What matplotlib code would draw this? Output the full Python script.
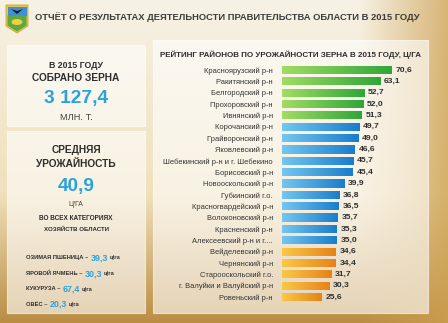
import numpy as np
import matplotlib
matplotlib.use("Agg")
import matplotlib.pyplot as plt
from matplotlib.patches import Rectangle, Polygon, Ellipse

# district harvest rating, 2015 (centner per hectare)
districts = [
    "Красноярузский р-н", "Ракитянский р-н", "Белгородский р-н",
    "Прохоровский р-н", "Ивнянский р-н", "Корочанский р-н",
    "Грайворонский р-н", "Яковлевский р-н", "Шебекинский р-н и г. Шебекино",
    "Борисовский р-н", "Новооскольский р-н", "Губкинский г.о.",
    "Красногвардейский р-н", "Волоконовский р-н", "Красненский р-н",
    "Алексеевский р-н и г....", "Вейделевский р-н", "Чернянский р-н",
    "Старооскольский г.о.", "г. Валуйки и Валуйский р-н", "Ровеньский р-н",
]
yields = [70.6, 63.1, 52.7, 52.0, 51.3, 49.7, 49.0, 46.6, 45.7, 45.4, 39.9,
          36.8, 36.5, 35.7, 35.3, 35.0, 34.6, 34.4, 31.7, 30.3, 25.6]
groups = ["top"] * 5 + ["mid"] * 11 + ["low"] * 5

total_grain = "3 127,4"
avg_yield = "40,9"
crops = ["ОЗИМАЯ ПШЕНИЦА", "ЯРОВОЙ ЯЧМЕНЬ", "КУКУРУЗА", "ОВЁС"]
crop_yields = [39.3, 30.3, 67.4, 20.3]

FONT = ["Liberation Sans", "DejaVu Sans"]
DARK = "#2e2e2e"
BLUE = "#2aa2dc"
grad = {
    "top": ("#a2dc64", "#2fa63a"),
    "mid": ("#74c6f0", "#1a7dcc"),
    "low": ("#fac846", "#e5831a"),
}


def comma(v):
    return f"{v:.1f}".replace(".", ",")


W, H = 448, 323
fig = plt.figure(figsize=(W / 100, H / 100), dpi=100)
renderer = fig.canvas.get_renderer()


def fit(t, width):
    # scale the font so the text spans the given pixel width
    w = t.get_window_extent(renderer).width
    t.set_fontsize(t.get_fontsize() * width / w)
    return t


# warm wheat-like backdrop
bg = fig.add_axes([0, 0, 1, 1])
yy, xx = np.mgrid[0:H, 0:W]
ty = yy / H
tx = xx / W
top = np.array([247, 242, 230]) / 255
mid = np.array([240, 224, 186]) / 255
bot = np.array([186, 140, 66]) / 255
w1 = np.clip(ty / 0.6, 0, 1)[..., None]
w2 = np.clip((ty - 0.6) / 0.4, 0, 1)[..., None]
img = top * (1 - w1) + mid * w1
img = img * (1 - w2) + bot * w2
side = np.clip((tx - 0.8) / 0.2, 0, 1)[..., None] * 0.75
img = img * (1 - side) + np.array([205, 160, 80]) / 255 * side
bg.imshow(img, extent=[0, W, H, 0], aspect="auto")
bg.set_xlim(0, W)
bg.set_ylim(H, 0)
bg.axis("off")

# panels
for x0, y0, x1, y1 in [(7, 45, 145, 126), (7, 131, 145, 313), (153, 40, 428, 313)]:
    bg.add_patch(Rectangle((x0, y0), x1 - x0, y1 - y0, facecolor="white",
                           alpha=0.6, edgecolor="white", lw=0.8))

# coat of arms
bg.add_patch(Polygon([(6, 5), (28, 5), (28, 26), (17, 33), (6, 26)],
                     closed=True, facecolor="#e6c54a", edgecolor="#c9a53a", lw=0.6))
bg.add_patch(Rectangle((7.5, 6.5), 19, 9, facecolor="#3f8fd4", lw=0))
bg.add_patch(Polygon([(7.5, 15.5), (26.5, 15.5), (26.5, 25.5), (17, 31.5), (7.5, 25.5)],
                     closed=True, facecolor="#5ea842", lw=0))
bg.add_patch(Polygon([(11, 9), (17, 14), (23, 9), (17, 11)], closed=True,
                     facecolor="#1c1c1c", lw=0))
bg.add_patch(Ellipse((17, 22), 11, 6, facecolor="#f0d040", lw=0))

fit(bg.text(35, 17, "ОТЧЁТ О РЕЗУЛЬТАТАХ ДЕЯТЕЛЬНОСТИ ПРАВИТЕЛЬСТВА ОБЛАСТИ В 2015 ГОДУ",
            family=FONT, fontsize=8, fontweight="bold", color="#3c3c3c",
            ha="left", va="center"), 386)

# left column summary
cx = 76


def head(y, s, width, size=7, weight="bold", color=DARK):
    t = bg.text(cx, y, s, family=FONT, fontsize=size, fontweight=weight,
                color=color, ha="center", va="center")
    return fit(t, width)


head(65, "В 2015 ГОДУ", 54)
head(78, "СОБРАНО ЗЕРНА", 88)
head(98, total_grain, 64, 16, color=BLUE)
head(118, "МЛН. Т.", 33, 6, "normal", "#444444")
head(150, "СРЕДНЯЯ", 50)
head(164, "УРОЖАЙНОСТЬ", 80)
head(187, avg_yield, 37, 16, color=BLUE)
head(205, "Ц/ГА", 15, 6, "normal", "#444444")
head(219, "ВО ВСЕХ КАТЕГОРИЯХ", 76, 5)
head(229, "ХОЗЯЙСТВ ОБЛАСТИ", 67, 5)

probe = bg.text(0, 0, "ОЗИМАЯ ПШЕНИЦА", family=FONT, fontsize=5,
                fontweight="bold")
small = fit(probe, 58).get_fontsize()
probe.remove()
for i, (name, val) in enumerate(zip(crops, crop_yields)):
    y = 258 + i * 15.5
    t1 = bg.text(26, y, name + " – ", family=FONT, fontsize=small,
                 fontweight="bold", color=DARK, ha="left", va="center")
    t2 = bg.annotate(comma(val), xy=(1, 0.5), xycoords=t1, xytext=(0.3, 0),
                     textcoords="offset points", family=FONT,
                     fontsize=small * 1.55, fontweight="bold", color=BLUE,
                     ha="left", va="center")
    bg.annotate("ц/га", xy=(1, 0.5), xycoords=t2, xytext=(1.5, 0),
                textcoords="offset points", family=FONT, fontsize=small,
                fontweight="bold", color=DARK, ha="left", va="center")

fit(bg.text(291, 55, "РЕЙТИНГ РАЙОНОВ ПО УРОЖАЙНОСТИ ЗЕРНА В 2015 ГОДУ, Ц/ГА",
            family=FONT, fontsize=6, fontweight="bold", color=DARK,
            ha="center", va="center"), 264)

probe = bg.text(0, 0, "Шебекинский р-н и г. Шебекино", family=FONT, fontsize=6)
label_size = fit(probe, 110).get_fontsize()
probe.remove()
probe = bg.text(0, 0, "70,6", family=FONT, fontsize=7, fontweight="bold")
value_size = fit(probe, 16.5).get_fontsize()
probe.remove()

# rating bars
row = 11.35
ax_top = 70 - row / 2
ax_bot = 297 + row / 2
ax = fig.add_axes([282 / W, 1 - ax_bot / H, 155.8 / W, (ax_bot - ax_top) / H])
ax.patch.set_alpha(0)
pos = np.arange(len(districts))
bars = ax.barh(pos, yields, height=0.72, color="none", lw=0)

ramp = np.linspace(0, 1, 64)[None, :, None]
for b, g, v, i in zip(bars, groups, yields, pos):
    c0 = np.array(matplotlib.colors.to_rgb(grad[g][0]))
    c1 = np.array(matplotlib.colors.to_rgb(grad[g][1]))
    fill = c0 * (1 - ramp) + c1 * ramp
    im = ax.imshow(fill, extent=[0, v, i + 0.36, i - 0.36], aspect="auto",
                   interpolation="bilinear", zorder=2)
    im.set_clip_path(b)
    ax.text(v + 2.4, i, comma(v), family=FONT, fontsize=value_size,
            fontweight="bold", color=DARK, ha="left", va="center")
ax.set_xlim(0, 100)
ax.set_ylim(len(districts) - 0.5, -0.5)

ax.set_yticks(pos)
ax.set_yticklabels(districts, family=FONT, fontsize=label_size, color="#333333")
ax.tick_params(axis="y", length=0, pad=6.5)
ax.set_xticks([])
for s in ax.spines.values():
    s.set_visible(False)

fig.savefig("out.png", dpi=100)
